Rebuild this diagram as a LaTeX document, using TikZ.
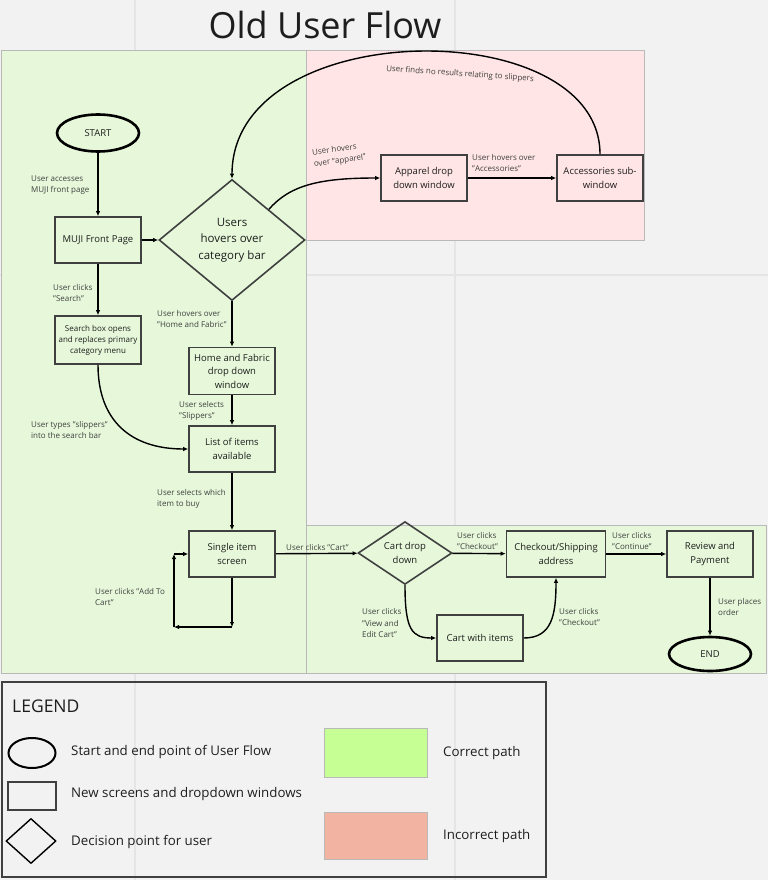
\documentclass[tikz,border=0pt]{standalone}
\usepackage{fontspec}
\setmainfont{Open Sans}
\usepackage{tikz}
\usetikzlibrary{shapes.geometric}
\usetikzlibrary{arrows.meta}

\definecolor{canvas}{HTML}{F2F2F2}
\definecolor{gridline}{HTML}{E5E5E5}
\definecolor{okfill}{HTML}{E6F8D9}
\definecolor{badfill}{HTML}{FFE5E5}
\definecolor{panelline}{HTML}{B9B9B9}
\definecolor{okswatch}{HTML}{C6FF93}
\definecolor{badswatch}{HTML}{F2B3A2}
\definecolor{ink}{HTML}{1E1E1E}

\begin{document}
\begin{tikzpicture}[x=1pt,y=-1pt,
    every node/.style={text=ink},
    screen/.style={draw=ink!85, line width=1.6pt, align=center, inner sep=0pt,
        minimum width=86pt, minimum height=46pt, font=\fontsize{9.5}{13.5}\selectfont},
    terminal/.style={ellipse, draw=black, line width=2.6pt, inner sep=0pt,
        minimum width=82pt, minimum height=37pt, font=\fontsize{9.5}{12}\selectfont},
    decision/.style={diamond, draw=ink!85, line width=1.6pt, align=center, inner sep=0pt,
        font=\fontsize{11.5}{16.5}\selectfont},
    note/.style={anchor=west, align=left, inner sep=0pt, text=ink!85,
        font=\fontsize{8}{11.5}\selectfont},
    legtext/.style={anchor=west, inner sep=0pt, font=\fontsize{13.3}{15}\selectfont},
    flow/.style={line width=1.4pt, -{Latex[length=5pt,width=4.5pt]}}]
    \useasboundingbox (0,0) rectangle (768,880);
    \fill[canvas] (0,0) rectangle (768,880);
    \draw[gridline, line width=1.5pt] (135,0) -- (135,880);
    \draw[gridline, line width=1.5pt] (455,0) -- (455,880);
    \draw[gridline, line width=1.5pt] (0,275) -- (768,275);

    \draw[panelline, fill=okfill, line width=1pt] (1,51) rectangle (306,673);
    \draw[panelline, fill=badfill, line width=1pt] (306,51) rectangle (644,240);
    \draw[panelline, fill=okfill, line width=1pt] (306,525) rectangle (766,673);

    \node[font=\fontsize{36}{40}\selectfont] (title) at (325,25) {Old User Flow};

    \node[terminal] (start) at (98,133) {START};
    \node[screen] (front) at (98,240) {MUJI Front Page};
    \node[decision, minimum width=146pt, minimum height=121pt] (hover) at (232,240) {Users\\hovers over\\category bar};
    \node[screen, minimum height=48pt, font=\fontsize{8}{11}\selectfont] (search) at (98,340) {Search box opens\\and replaces primary\\category menu};
    \node[screen, minimum height=47pt] (homefab) at (232,371) {Home and Fabric\\drop down\\window};
    \node[screen] (items) at (232,449) {List of items\\available};
    \node[screen] (single) at (232,554) {Single item\\screen};
    \node[screen] (apparel) at (424,178) {Apparel drop\\down window};
    \node[screen] (access) at (600,178) {Accessories sub-\\window};
    \node[decision, minimum width=94pt, minimum height=55pt, font=\fontsize{9.5}{13.5}\selectfont] (cartdd) at (405,553) {Cart drop\\down};
    \node[screen, minimum width=99pt] (checkout) at (556,554) {Checkout/Shipping\\address};
    \node[screen] (review) at (710,554) {Review and\\Payment};
    \node[screen] (cartitems) at (480,638) {Cart with items};
    \node[terminal, minimum height=34pt] (end) at (710,654) {END};

    \coordinate (loopa) at (232,627);
    \coordinate (loopb) at (174,627);
    \coordinate (loopc) at (174,554);

    \draw[flow] (start) -- (front);
    \draw[flow] (front) -- (hover);
    \draw[flow] (front) -- (search);
    \draw[flow] (search.south) .. controls (98,420) and (130,449) .. (items.west);
    \draw[flow] (hover) -- (homefab);
    \draw[flow] (homefab) -- (items);
    \draw[flow] (items) -- (single);
    \draw[flow] (single) -- (loopa);
    \draw[flow] (loopa) -- (loopb);
    \draw[flow] (loopb) -- (loopc);
    \draw[flow] (loopc) -- (single.west);
    \draw[flow] (single) -- (cartdd);
    \draw[flow] (cartdd) -- (checkout);
    \draw[flow] (cartdd.south) .. controls (405,630) and (412,638) .. (cartitems.west);
    \draw[flow] (cartitems.east) .. controls (552,638) and (556,615) .. (checkout.south);
    \draw[flow] (checkout) -- (review);
    \draw[flow] (review) -- (end);
    \draw[flow] (hover.north east) .. controls (290,185) and (320,178) .. (apparel.west);
    \draw[flow] (apparel) -- (access);
    \draw[flow] (access.north) .. controls (600,12) and (232,15) .. (hover.north);

    \node[note] (lbl-access) at (31,185) {User accesses\\MUJI front page};
    \node[note] (lbl-search) at (53,293) {User clicks\\"Search"};
    \node[note] (lbl-types) at (31,430) {User types "slippers"\\into the search bar};
    \node[note] (lbl-homefab) at (157,319) {User hovers over\\"Home and Fabric"};
    \node[note] (lbl-slippers) at (179,411) {User selects\\"Slippers"};
    \node[note] (lbl-which) at (157,499) {User selects which\\item to buy};
    \node[note] (lbl-add) at (95,597) {User clicks "Add To\\Cart"};
    \node[note] (lbl-cart) at (286,547) {User clicks "Cart"};
    \node[note] (lbl-check1) at (457,541) {User clicks\\"Checkout"};
    \node[note] (lbl-edit) at (362,623) {User clicks\\"View and\\Edit Cart"};
    \node[note] (lbl-check2) at (559,617) {User clicks\\"Checkout"};
    \node[note] (lbl-cont) at (612,541) {User clicks\\"Continue"};
    \node[note] (lbl-order) at (718,607) {User places\\order};
    \node[note] (lbl-acc) at (472,163) {User hovers over\\"Accessories"};
    \node[note, rotate=8] (lbl-apparel) at (313,159) {User hovers\\over "apparel"};
    \node[note, rotate=-4] (lbl-none) at (386,69) {User finds no results relating to slippers};

    \draw[ink!85, line width=1.3pt] (2,682) rectangle (546,877);
    \node[anchor=west, inner sep=0pt, font=\fontsize{17.5}{20}\selectfont] (legend) at (12,706) {LEGEND};
    \node[ellipse, draw=black, line width=2pt, minimum width=47pt, minimum height=30pt] (leg-term) at (32,753) {};
    \node[legtext] (leg-t1) at (71,752) {Start and end point of User Flow};
    \node[draw=ink!85, line width=1.6pt, minimum width=48pt, minimum height=28pt] (leg-screen) at (32,796) {};
    \node[legtext] (leg-t2) at (71,794) {New screens and dropdown windows};
    \node[diamond, draw=black, line width=1.4pt, inner sep=0pt, minimum width=50pt, minimum height=45pt] (leg-dec) at (31,841) {};
    \node[legtext] (leg-t3) at (71,842) {Decision point for user};
    \node[draw=panelline, line width=1pt, fill=okswatch, minimum width=103pt, minimum height=49pt] (leg-ok) at (375.5,752.5) {};
    \node[legtext] (leg-t4) at (443,753) {Correct path};
    \node[draw=panelline, line width=1pt, fill=badswatch, minimum width=103pt, minimum height=47pt] (leg-bad) at (375.5,835.5) {};
    \node[legtext] (leg-t5) at (443,836) {Incorrect path};
\end{tikzpicture}
\end{document}
